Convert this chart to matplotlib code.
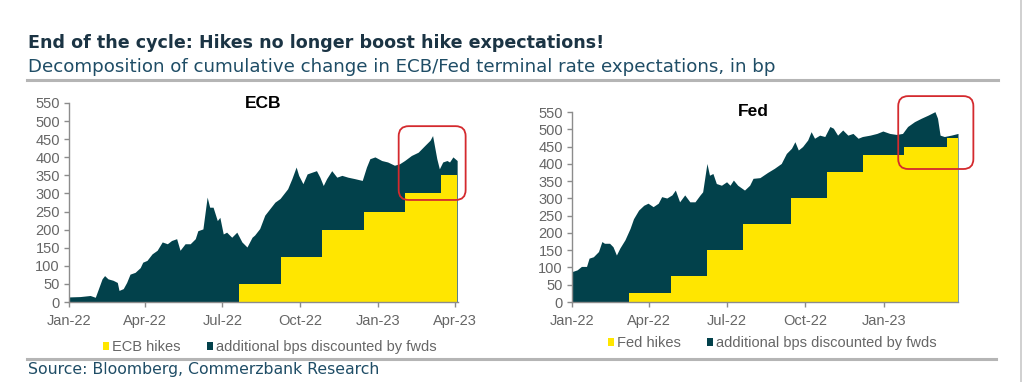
import matplotlib
matplotlib.use('Agg')

import matplotlib.pyplot as plt
import matplotlib.dates as mdates
import matplotlib.patches as patches
from matplotlib.transforms import IdentityTransform
from matplotlib.lines import Line2D
import pandas as pd

# ---- data ----
ecb_dates = [
    '2022-01-01', '2022-01-14', '2022-01-26', '2022-02-01', '2022-02-04', '2022-02-09',
    '2022-02-12', '2022-02-16', '2022-02-22', '2022-02-27', '2022-03-01', '2022-03-06',
    '2022-03-10', '2022-03-14', '2022-03-20', '2022-03-26', '2022-03-29', '2022-04-03',
    '2022-04-09', '2022-04-15', '2022-04-21', '2022-04-27', '2022-05-02', '2022-05-08',
    '2022-05-12', '2022-05-18', '2022-05-24', '2022-05-30', '2022-06-02', '2022-06-08',
    '2022-06-13', '2022-06-16', '2022-06-20', '2022-06-25', '2022-06-28', '2022-07-02',
    '2022-07-06', '2022-07-12', '2022-07-18', '2022-07-24', '2022-07-30', '2022-08-05',
    '2022-08-08', '2022-08-14', '2022-08-20', '2022-08-26', '2022-09-01', '2022-09-07',
    '2022-09-13', '2022-09-16', '2022-09-21', '2022-09-26', '2022-09-29', '2022-10-04',
    '2022-10-09', '2022-10-15', '2022-10-20', '2022-10-24', '2022-10-28', '2022-11-01',
    '2022-11-07', '2022-11-13', '2022-11-19', '2022-11-26', '2022-12-04', '2022-12-13',
    '2022-12-18', '2022-12-22', '2022-12-28', '2023-01-05', '2023-01-12', '2023-01-20',
    '2023-01-26', '2023-02-01', '2023-02-09', '2023-02-17', '2023-02-25', '2023-03-03',
    '2023-03-06', '2023-03-11', '2023-03-14', '2023-03-18', '2023-03-23', '2023-03-26',
    '2023-03-30', '2023-04-04',
]
ecb_total = [
    14, 15, 18, 13, 32, 64,
    73, 64, 60, 54, 32, 37,
    54, 77, 82, 95, 110, 115,
    133, 143, 166, 161, 170, 175,
    143, 161, 161, 175, 197, 202,
    290, 262, 262, 225, 234, 188,
    193, 179, 193, 166, 152, 179,
    185, 203, 240, 258, 276, 286,
    304, 313, 341, 373, 350, 327,
    354, 359, 363, 345, 322, 341,
    363, 345, 350, 345, 341, 336,
    373, 396, 401, 391, 387, 378,
    382, 391, 405, 414, 433, 447,
    460, 396, 368, 387, 391, 387,
    401, 391,
]
ecb_hike_dates = ['2022-01-01', '2022-07-21', '2022-09-08', '2022-10-27',
                  '2022-12-15', '2023-02-02', '2023-03-16']
ecb_hikes = [0, 50, 125, 200, 250, 300, 350]

fed_dates = [
    '2022-01-01', '2022-01-07', '2022-01-12', '2022-01-18', '2022-01-21', '2022-01-26',
    '2022-02-01', '2022-02-05', '2022-02-08', '2022-02-14', '2022-02-18', '2022-02-22',
    '2022-02-26', '2022-03-04', '2022-03-10', '2022-03-14', '2022-03-20', '2022-03-26',
    '2022-03-31', '2022-04-06', '2022-04-12', '2022-04-16', '2022-04-22', '2022-04-28',
    '2022-05-02', '2022-05-07', '2022-05-13', '2022-05-19', '2022-05-25', '2022-05-31',
    '2022-06-03', '2022-06-08', '2022-06-11', '2022-06-15', '2022-06-19', '2022-06-25',
    '2022-07-01', '2022-07-05', '2022-07-09', '2022-07-14', '2022-07-22', '2022-07-28',
    '2022-08-01', '2022-08-09', '2022-08-18', '2022-08-26', '2022-09-03', '2022-09-09',
    '2022-09-15', '2022-09-19', '2022-09-23', '2022-09-28', '2022-10-04', '2022-10-08',
    '2022-10-12', '2022-10-18', '2022-10-24', '2022-10-30', '2022-11-03', '2022-11-08',
    '2022-11-14', '2022-11-20', '2022-11-26', '2022-12-02', '2022-12-07', '2022-12-16',
    '2022-12-24', '2022-12-31', '2023-01-08', '2023-01-16', '2023-01-23', '2023-01-29',
    '2023-02-06', '2023-02-14', '2023-02-22', '2023-03-02', '2023-03-05', '2023-03-08',
    '2023-03-13', '2023-03-21', '2023-03-29',
]
fed_total = [
    88, 93, 103, 103, 127, 131,
    146, 175, 170, 170, 160, 136,
    156, 180, 213, 241, 266, 280,
    286, 276, 286, 305, 301, 310,
    324, 290, 310, 290, 290, 310,
    319, 401, 367, 372, 343, 338,
    348, 338, 353, 338, 324, 338,
    358, 360, 375, 387, 401, 430,
    445, 464, 440, 450, 469, 493,
    474, 483, 479, 508, 503, 483,
    498, 483, 488, 474, 479, 483,
    488, 495, 488, 485, 488, 508,
    522, 532, 541, 551, 532, 483,
    479, 483, 488,
]
fed_hike_dates = ['2022-01-01', '2022-03-09', '2022-04-27', '2022-06-08', '2022-07-20',
                  '2022-09-14', '2022-10-27', '2022-12-08', '2023-01-25', '2023-03-16']
fed_hikes = [0, 25, 75, 150, 225, 300, 375, 425, 450, 475]

y_ticks = list(range(0, 551, 50))

# highlight boxes, in data units (date, bp)
ecb_box = (('2023-01-25', 282), ('2023-04-14', 486))
fed_box = (('2023-01-18', 385), ('2023-04-16', 596))

# ---- style ----
YELLOW = '#ffe600'
DARK = '#02414b'
NAVY = '#1b3444'
TEAL = '#1f4d66'
GRAY = '#666666'
RED = '#d42a2e'
RULE = '#b5b5b5'

plt.rcParams['font.family'] = ['Liberation Sans', 'DejaVu Sans']

W, H = 1024, 382
fig = plt.figure(figsize=(W / 100, H / 100), dpi=100)


def fx(px):
    return px / W


def fy(py):
    return 1 - py / H


def draw_panel(left, top, right, name, dates, total, hike_dates, hikes, x_end,
               box, hike_label, legend_x, legend_y):
    bottom = 302
    ax = fig.add_axes([fx(left), fy(bottom), (right - left) / W, (bottom - top) / H])
    d = pd.to_datetime(dates)
    ax.fill_between(d, 0, total, color=DARK, lw=0)
    hd = pd.to_datetime(hike_dates + [dates[-1]])
    hv = hikes + [hikes[-1]]
    ax.fill_between(hd, 0, hv, step='post', color=YELLOW, lw=0)

    ax.set_xlim(pd.Timestamp('2022-01-01'), pd.Timestamp(x_end))
    ax.set_ylim(0, 550)
    ax.set_yticks(y_ticks)
    ax.xaxis.set_major_locator(mdates.MonthLocator(bymonth=[1, 4, 7, 10]))
    ax.xaxis.set_major_formatter(mdates.DateFormatter('%b-%y'))
    for s in ['top', 'right']:
        ax.spines[s].set_visible(False)
    for s in ['left', 'bottom']:
        ax.spines[s].set_color('#8c8c8c')
        ax.spines[s].set_linewidth(1.0)
    ax.tick_params(axis='both', colors='#8c8c8c', labelcolor=GRAY, labelsize=10.5,
                   length=3.5, width=1.0)
    ax.tick_params(axis='y', pad=3)
    ax.tick_params(axis='x', pad=5)

    ax.text(0.5 if name == 'ECB' else 0.47, 1.0, name, transform=ax.transAxes,
            ha='center', va='center', fontsize=12.5, fontweight='bold', color='black')

    # red rounded highlight box, drawn in pixel space so corners stay round
    (d0, v0), (d1, v1) = box
    p0 = ax.transData.transform((mdates.date2num(pd.Timestamp(d0)), v0))
    p1 = ax.transData.transform((mdates.date2num(pd.Timestamp(d1)), v1))
    rect = patches.FancyBboxPatch(
        (p0[0], p0[1]), p1[0] - p0[0], p1[1] - p0[1],
        boxstyle='round,pad=0,rounding_size=10',
        facecolor='none', edgecolor=RED, linewidth=1.3,
        transform=IdentityTransform())
    fig.add_artist(rect)

    handles = [patches.Patch(facecolor=YELLOW, label=hike_label),
               patches.Patch(facecolor=DARK, label='additional bps discounted by fwds')]
    fig.legend(handles=handles, loc='center', bbox_to_anchor=(fx(legend_x), fy(legend_y)),
               ncol=2, frameon=False, fontsize=10.5, labelcolor=GRAY,
               handlelength=0.42, handleheight=0.42, handletextpad=0.2,
               columnspacing=1.8, borderpad=0)
    return ax


draw_panel(69, 103, 458, 'ECB', ecb_dates, ecb_total, ecb_hike_dates, ecb_hikes,
           '2023-04-05', ecb_box, 'ECB hikes', 270, 347)
draw_panel(572, 112, 958, 'Fed', fed_dates, fed_total, fed_hike_dates, fed_hikes,
           '2023-03-29', fed_box, 'Fed hikes', 772, 343)

# headings, rules and source
fig.text(fx(28), fy(48), 'End of the cycle: Hikes no longer boost hike expectations!',
         fontsize=12.6, fontweight='bold', color=NAVY, family='DejaVu Sans', va='baseline')
fig.text(fx(28), fy(72),
         'Decomposition of cumulative change in ECB/Fed terminal rate expectations, in bp',
         fontsize=13.15, color=TEAL, family='DejaVu Sans', va='baseline')
fig.add_artist(Line2D([fx(27), fx(998)], [fy(80), fy(80)], color=RULE, lw=2.2))
fig.add_artist(Line2D([fx(27), fx(996)], [fy(358.5), fy(358.5)], color=RULE, lw=2.2))
fig.add_artist(Line2D([fx(1021), fx(1021)], [0, 1], color='#c8c8c8', lw=1.2))
fig.text(fx(28), fy(374), 'Source: Bloomberg, Commerzbank Research',
         fontsize=11.3, color=TEAL, family='DejaVu Sans', va='baseline')

fig.savefig('out.png', dpi=100)
